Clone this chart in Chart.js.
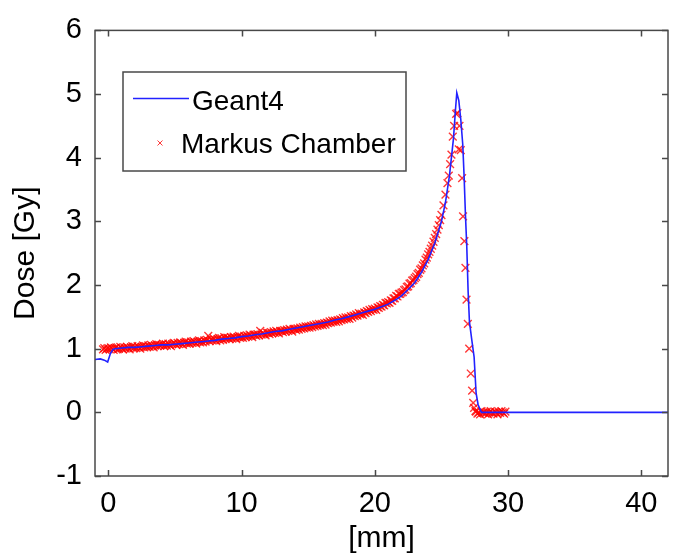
<!DOCTYPE html>
<html>
<head>
<meta charset="utf-8">
<script src="https://cdn.jsdelivr.net/npm/chart.js@4"></script>
<style>
html,body{margin:0;padding:0;background:#fff;}
#wrap{width:678px;height:557px;}
</style>
</head>
<body>
<div id="wrap"><canvas id="c" width="678" height="557"></canvas></div>
<script>
// ---- Data ----
const xTickValues = [0, 10, 20, 30, 40];
const yTickValues = [-1, 0, 1, 2, 3, 4, 5, 6];
const xTitle = '[mm]';
const yTitle = 'Dose [Gy]';
const seriesNames = ['Geant4', 'Markus Chamber'];

const geantX = [
  -1, -0.6, -0.3, -0.05, 0.15, 0.35, 0.5,
  1, 1.5, 2, 2.5, 3, 3.5, 4, 4.5, 5, 5.5, 6, 6.5, 7, 7.5, 8, 8.5, 9, 9.5, 10, 10.5, 11, 11.5, 12, 12.5,
  13, 13.5, 14, 14.5, 15, 15.5, 16, 16.5, 17, 17.5, 18, 18.5, 19, 19.5, 20, 20.5, 21, 21.5, 22, 22.5,
  23, 23.5, 24, 24.5, 25,
  25.3, 25.6, 25.9, 26.05, 26.15, 26.3, 26.45, 26.6, 26.7, 26.8, 26.9, 27.0, 27.1, 27.3, 27.45, 27.6,
  27.75, 28.0, 30, 35, 42
];
const geantY = [
  0.83, 0.84, 0.82, 0.79, 0.92, 0.99, 1.00,
  1.01, 1.02, 1.02, 1.03, 1.04, 1.05, 1.06, 1.06, 1.07, 1.08, 1.09, 1.10, 1.11, 1.12, 1.13, 1.15, 1.16, 1.17, 1.19, 1.20, 1.22, 1.23, 1.25, 1.27,
  1.28, 1.30, 1.32, 1.34, 1.36, 1.38, 1.40, 1.42, 1.45, 1.47, 1.50, 1.53, 1.56, 1.59, 1.62, 1.66, 1.70, 1.76, 1.83, 1.93,
  2.04, 2.20, 2.40, 2.66, 3.00,
  3.30, 3.72, 4.30, 4.75, 5.02, 4.90, 4.60, 4.20, 3.70, 3.10, 2.60, 1.90, 1.42, 1.10, 0.87, 0.30,
  0.12, 0.00, 0.00, 0.00, 0.00
];

const markusX = [
  -0.4, -0.3, -0.2, -0.1,
  0.0, 0.1, 0.2, 0.3, 0.4, 0.5, 0.6, 0.7, 0.8, 0.9,
  1.0, 1.1, 1.2, 1.3, 1.4, 1.5, 1.6, 1.7, 1.8, 1.9,
  2.0, 2.1, 2.2, 2.3, 2.4, 2.5, 2.6, 2.7, 2.8, 2.9,
  3.0, 3.1, 3.2, 3.3, 3.4, 3.5, 3.6, 3.7, 3.8, 3.9,
  4.0, 4.1, 4.2, 4.3, 4.4, 4.5, 4.6, 4.7, 4.8, 4.9,
  5.0, 5.1, 5.2, 5.3, 5.4, 5.5, 5.6, 5.7, 5.8, 5.9,
  6.0, 6.1, 6.2, 6.3, 6.4, 6.5, 6.6, 6.7, 6.8, 6.9,
  7.0, 7.1, 7.2, 7.3, 7.4, 7.5, 7.6, 7.7, 7.8, 7.9,
  8.0, 8.1, 8.2, 8.3, 8.4, 8.5, 8.6, 8.7, 8.8, 8.9,
  9.0, 9.1, 9.2, 9.3, 9.4, 9.5, 9.6, 9.7, 9.8, 9.9,
  10.0, 10.1, 10.2, 10.3, 10.4, 10.5, 10.6, 10.7, 10.8, 10.9,
  11.0, 11.1, 11.2, 11.3, 11.4, 11.5, 11.6, 11.7, 11.8, 11.9,
  12.0, 12.1, 12.2, 12.3, 12.4, 12.5, 12.6, 12.7, 12.8, 12.9,
  13.0, 13.1, 13.2, 13.3, 13.4, 13.5, 13.6, 13.7, 13.8, 13.9,
  14.0, 14.1, 14.2, 14.3, 14.4, 14.5, 14.6, 14.7, 14.8, 14.9,
  15.0, 15.1, 15.2, 15.3, 15.4, 15.5, 15.6, 15.7, 15.8, 15.9,
  16.0, 16.1, 16.2, 16.3, 16.4, 16.5, 16.6, 16.7, 16.8, 16.9,
  17.0, 17.1, 17.2, 17.3, 17.4, 17.5, 17.6, 17.7, 17.8, 17.9,
  18.0, 18.1, 18.2, 18.3, 18.4, 18.5, 18.6, 18.7, 18.8, 18.9,
  19.0, 19.1, 19.2, 19.3, 19.4, 19.5, 19.6, 19.7, 19.8, 19.9,
  20.0, 20.1, 20.2, 20.3, 20.4, 20.5, 20.6, 20.7, 20.8, 20.9,
  21.0, 21.1, 21.2, 21.3, 21.4, 21.5, 21.6, 21.7, 21.8, 21.9,
  22.0, 22.1, 22.2, 22.3, 22.4, 22.5, 22.6, 22.7, 22.8, 22.9,
  23.0, 23.1, 23.2, 23.3, 23.4, 23.5, 23.6, 23.7, 23.8, 23.9,
  24.0, 24.1, 24.2, 24.3, 24.4,
  24.5, 24.6, 24.7, 24.8, 24.9, 25.0, 25.15, 25.3, 25.45, 25.55, 25.65, 25.75, 25.85, 25.95, 26.1, 26.2,
  26.3, 26.35, 26.45, 26.55, 26.62, 26.72, 26.8, 26.88, 26.98, 27.08, 27.2, 27.3, 27.38, 27.45, 27.55,
  27.6, 27.7, 27.8, 27.9, 28.0, 28.1, 28.2, 28.3, 28.4, 28.5, 28.6, 28.7, 28.8, 28.9, 29.0, 29.1, 29.2,
  29.3, 29.4, 29.5, 29.6, 29.7, 29.8
];
const markusY = [
  0.99, 1.01, 0.98, 1.00,
  1.01, 0.99, 1.02, 1.00, 0.98, 1.01, 1.02, 0.99, 1.00, 1.03,
  1.01, 0.99, 1.02, 1.00, 1.03, 1.01, 0.99, 1.02, 1.04, 1.01,
  1.03, 1.01, 1.04, 1.02, 1.00, 1.03, 1.05, 1.02, 1.04, 1.03,
  1.05, 1.03, 1.06, 1.04, 1.02, 1.05, 1.07, 1.04, 1.06, 1.05,
  1.06, 1.08, 1.04, 1.07, 1.05, 1.08, 1.06, 1.04, 1.07, 1.09,
  1.08, 1.06, 1.09, 1.07, 1.10, 1.08, 1.06, 1.09, 1.11, 1.08,
  1.10, 1.08, 1.11, 1.09, 1.12, 1.10, 1.08, 1.11, 1.13, 1.10,
  1.12, 1.10, 1.13, 1.11, 1.14, 1.20, 1.12, 1.15, 1.13, 1.16,
  1.14, 1.12, 1.15, 1.17, 1.13, 1.16, 1.14, 1.18, 1.15, 1.17,
  1.17, 1.15, 1.18, 1.16, 1.19, 1.17, 1.15, 1.18, 1.20, 1.17,
  1.19, 1.17, 1.20, 1.18, 1.21, 1.19, 1.22, 1.20, 1.18, 1.22,
  1.22, 1.20, 1.23, 1.21, 1.28, 1.22, 1.25, 1.23, 1.21, 1.25,
  1.25, 1.23, 1.26, 1.24, 1.27, 1.25, 1.28, 1.26, 1.24, 1.28,
  1.28, 1.26, 1.29, 1.27, 1.30, 1.28, 1.31, 1.29, 1.27, 1.31,
  1.31, 1.29, 1.32, 1.30, 1.33, 1.31, 1.34, 1.32, 1.35, 1.33,
  1.35, 1.33, 1.36, 1.34, 1.37, 1.35, 1.38, 1.36, 1.39, 1.37,
  1.39, 1.37, 1.40, 1.38, 1.41, 1.40, 1.43, 1.41, 1.44, 1.42,
  1.44, 1.42, 1.45, 1.43, 1.46, 1.45, 1.48, 1.46, 1.49, 1.47,
  1.49, 1.47, 1.51, 1.49, 1.52, 1.51, 1.54, 1.52, 1.56, 1.54,
  1.55, 1.53, 1.57, 1.56, 1.59, 1.58, 1.61, 1.59, 1.62, 1.61,
  1.63, 1.61, 1.65, 1.64, 1.67, 1.66, 1.69, 1.68, 1.72, 1.71,
  1.73, 1.72, 1.76, 1.75, 1.79, 1.79, 1.83, 1.82, 1.86, 1.86,
  1.88, 1.89, 1.92, 1.93, 1.97, 1.98, 2.02, 2.03, 2.07, 2.08,
  2.11, 2.13, 2.17, 2.19, 2.24, 2.26, 2.31, 2.34, 2.40, 2.43,
  2.48, 2.52, 2.57, 2.62, 2.68,
  2.74, 2.80, 2.87, 2.94, 3.02, 3.10, 3.25, 3.42, 3.60, 3.72, 3.90, 4.05, 4.33, 4.50, 4.69, 4.70,
  4.13, 4.50, 4.12, 3.68, 3.08, 2.69, 2.27, 1.77, 1.39, 1.00, 0.61, 0.34, 0.15, 0.07, 0.02,
  0.01, -0.02, 0.00, -0.03, 0.02, -0.01, 0.00, -0.02, 0.01, -0.03, 0.00, 0.02, -0.01, -0.02, 0.01, 0.00, -0.03,
  0.01, -0.01, 0.02, 0.00, -0.02, 0.01
];

// ---- Styles ----
const FONT = '"Liberation Sans", Arial, Helvetica, sans-serif';
const BLUE = '#2222ff';
const RED = 'rgba(255,0,0,0.78)';
const FRAME = '#484848';

const toPts = (xs, ys) => xs.map((v, i) => ({x: v, y: ys[i]}));

const framePlugin = {
  id: 'frameAndLegend',
  afterDatasetsDraw(chart) {
    const {ctx, chartArea: a, scales} = chart;
    const xs = scales.x, ys = scales.y;
    const tl = 6;
    ctx.save();
    ctx.strokeStyle = FRAME;
    ctx.lineWidth = 1.5;
    ctx.beginPath();
    xs.ticks.forEach(t => {
      const px = Math.round(xs.getPixelForValue(t.value)) + 0.5;
      ctx.moveTo(px, a.bottom); ctx.lineTo(px, a.bottom - tl);
      ctx.moveTo(px, a.top); ctx.lineTo(px, a.top + tl);
    });
    ys.ticks.forEach(t => {
      const py = Math.round(ys.getPixelForValue(t.value)) + 0.5;
      ctx.moveTo(a.left, py); ctx.lineTo(a.left + tl, py);
      ctx.moveTo(a.right, py); ctx.lineTo(a.right - tl, py);
    });
    ctx.stroke();
    ctx.strokeRect(a.left, a.top, a.right - a.left, a.bottom - a.top);

    // Legend box (inside the axes, like MATLAB)
    const lx = 123, ly = 72, lw = 283, lh = 99;
    ctx.fillStyle = '#fff';
    ctx.fillRect(lx, ly, lw, lh);
    ctx.strokeStyle = FRAME;
    ctx.lineWidth = 1.5;
    ctx.strokeRect(lx, ly, lw, lh);

    ctx.strokeStyle = BLUE;
    ctx.lineWidth = 1.5;
    ctx.beginPath();
    ctx.moveTo(133, 98.5); ctx.lineTo(189, 98.5);
    ctx.stroke();

    ctx.strokeStyle = RED;
    ctx.lineWidth = 1;
    ctx.beginPath();
    ctx.moveTo(157.5, 140.5); ctx.lineTo(162.5, 145.5);
    ctx.moveTo(162.5, 140.5); ctx.lineTo(157.5, 145.5);
    ctx.stroke();

    ctx.fillStyle = '#000';
    ctx.font = '28px ' + FONT;
    ctx.textBaseline = 'alphabetic';
    ctx.textAlign = 'left';
    ctx.fillText(seriesNames[0], 192, 110);
    ctx.fillText(seriesNames[1], 181, 153);
    ctx.restore();
  }
};

new Chart(document.getElementById('c'), {
  type: 'scatter',
  data: {
    datasets: [
      {
        label: seriesNames[0],
        data: toPts(geantX, geantY),
        showLine: true,
        borderColor: BLUE,
        borderWidth: 1.6,
        pointRadius: 0,
        tension: 0,
        fill: false
      },
      {
        label: seriesNames[1],
        data: toPts(markusX, markusY),
        showLine: false,
        pointStyle: 'crossRot',
        pointRadius: 5.5,
        borderColor: RED,
        backgroundColor: RED,
        pointBorderWidth: 1.4
      }
    ]
  },
  options: {
    responsive: false,
    animation: false,
    events: [],
    layout: {padding: {top: 23, right: 10, left: 0, bottom: 0}},
    plugins: {legend: {display: false}, tooltip: {enabled: false}},
    scales: {
      x: {
        type: 'linear',
        min: -1, max: 42,
        afterBuildTicks: s => { s.ticks = xTickValues.map(v => ({value: v})); },
        afterFit: s => { s.height = 81; },
        grid: {display: false, drawTicks: false},
        border: {display: false},
        ticks: {color: '#000', font: {family: FONT, size: 29}, padding: 11, maxRotation: 0, autoSkip: false},
        title: {display: true, text: xTitle, color: '#000', font: {family: FONT, size: 30}, padding: {top: 0, bottom: 0}}
      },
      y: {
        type: 'linear',
        min: -1, max: 6,
        afterBuildTicks: s => { s.ticks = yTickValues.map(v => ({value: v})); },
        afterFit: s => { s.width = 95; },
        grid: {display: false, drawTicks: false},
        border: {display: false},
        ticks: {color: '#000', font: {family: FONT, size: 29}, padding: 13, autoSkip: false},
        title: {display: true, text: yTitle, color: '#000', font: {family: FONT, size: 30}, padding: {top: 8, bottom: 0}}
      }
    }
  },
  plugins: [framePlugin]
});
</script>
</body>
</html>
